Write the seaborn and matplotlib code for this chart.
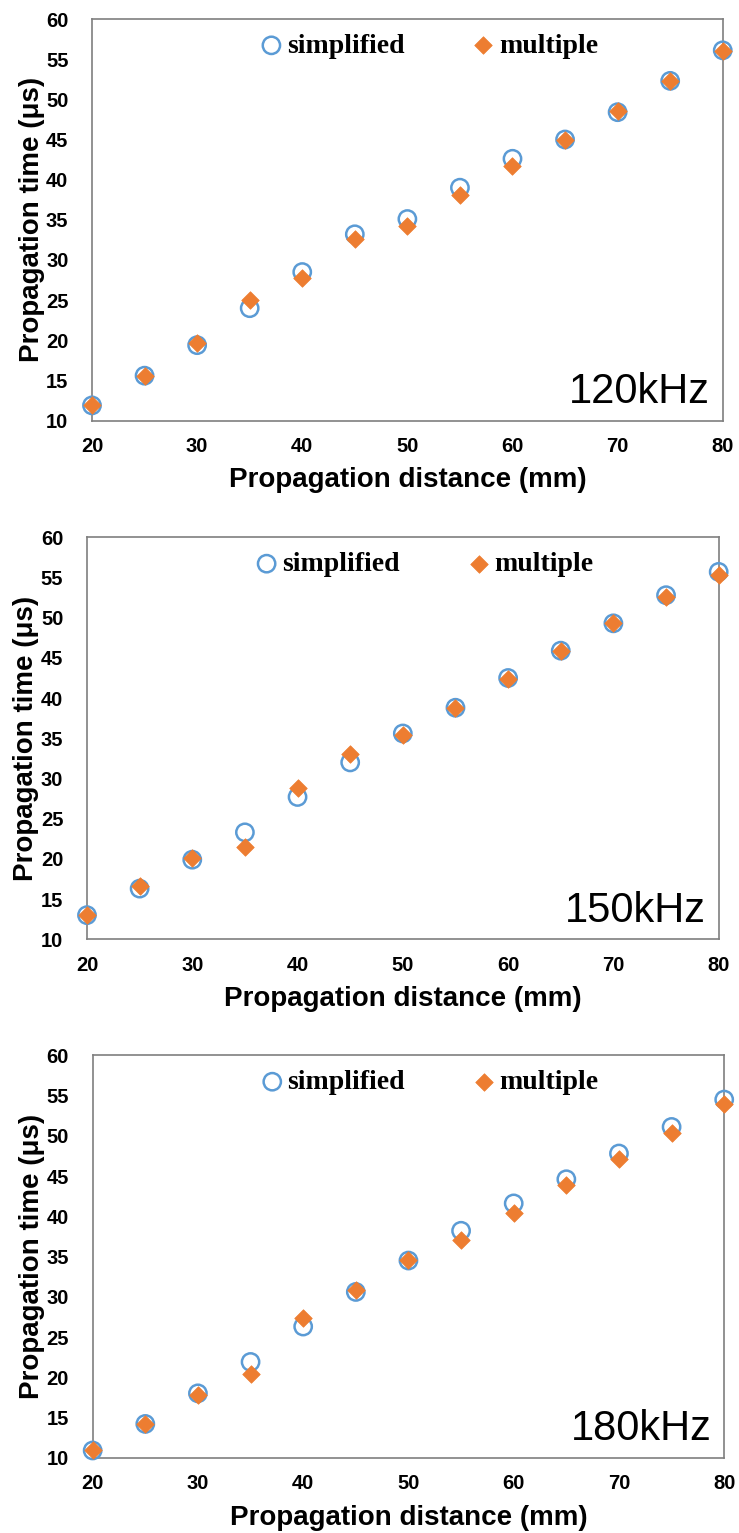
import matplotlib
matplotlib.use("Agg")
import matplotlib.pyplot as plt
import seaborn as sns
import pandas as pd

# ---------------- data ----------------
distance = [20, 25, 30, 35, 40, 45, 50, 55, 60, 65, 70, 75, 80]
sim_120 = [11.9, 15.6, 19.4, 24.0, 28.5, 33.2, 35.1, 39.0, 42.6, 45.0, 48.4, 52.3, 56.1]
mul_120 = [11.9, 15.6, 19.7, 25.0, 27.8, 32.6, 34.2, 38.1, 41.7, 44.9, 48.5, 52.3, 56.0]
sim_150 = [13.0, 16.3, 19.9, 23.3, 27.7, 32.0, 35.6, 38.8, 42.5, 45.9, 49.3, 52.8, 55.7]
mul_150 = [13.0, 16.6, 20.1, 21.5, 28.8, 33.0, 35.4, 38.8, 42.4, 45.9, 49.3, 52.6, 55.3]
sim_180 = [10.9, 14.2, 18.0, 21.9, 26.3, 30.6, 34.5, 38.2, 41.6, 44.6, 47.8, 51.1, 54.5]
mul_180 = [10.9, 14.2, 17.8, 20.4, 27.3, 30.8, 34.6, 37.0, 40.4, 43.9, 47.1, 50.4, 53.9]
frequencies = ["120kHz", "150kHz", "180kHz"]
series_names = ["simplified", "multiple"]
x_ticks = [20, 30, 40, 50, 60, 70, 80]
y_ticks = [10, 15, 20, 25, 30, 35, 40, 45, 50, 55, 60]
x_label = "Propagation distance (mm)"
y_label = "Propagation time (\u03bcs)"

panels = [(sim_120, mul_120), (sim_150, mul_150), (sim_180, mul_180)]

sns.set_style("white")
plt.rcParams["font.family"] = ["Liberation Sans", "DejaVu Sans"]
plt.rcParams["text.color"] = "black"
plt.rcParams["axes.labelcolor"] = "black"
plt.rcParams["xtick.color"] = "black"
plt.rcParams["ytick.color"] = "black"

BLUE = "#5B9BD5"
ORANGE = "#ED7D31"
SPINE = "#7F7F7F"

fig = plt.figure(figsize=(7.39, 15.33), dpi=100)
rects = [
    [0.1245, 0.7256, 0.8535, 0.2620],
    [0.1177, 0.3873, 0.8548, 0.2622],
    [0.1254, 0.0491, 0.8546, 0.2625],
]

for (sim, mul), freq, rect in zip(panels, frequencies, rects):
    ax = fig.add_axes(rect)
    df_s = pd.DataFrame({"distance": distance, "time": sim})
    df_m = pd.DataFrame({"distance": distance, "time": mul})
    sns.scatterplot(data=df_s, x="distance", y="time", ax=ax, marker="o", s=155,
                    facecolor="none", edgecolor=BLUE, linewidth=1.8,
                    label=series_names[0], clip_on=False, zorder=3)
    sns.scatterplot(data=df_m, x="distance", y="time", ax=ax, marker="D", s=80,
                    color=ORANGE, edgecolor=ORANGE, linewidth=0.5,
                    label=series_names[1], clip_on=False, zorder=4)
    ax.set_xlim(20, 80)
    ax.set_ylim(10, 60)
    ax.set_xticks(x_ticks)
    ax.set_yticks(y_ticks)
    for sp in ax.spines.values():
        sp.set_color(SPINE)
        sp.set_linewidth(1.2)
        sp.set_visible(True)
    ax.tick_params(axis="x", length=0, pad=12, labelsize=14.5, colors="black")
    ax.tick_params(axis="y", length=0, pad=17, labelsize=14.5, colors="black")
    for lab in ax.get_xticklabels() + ax.get_yticklabels():
        lab.set_fontweight("bold")
    ax.set_xlabel(x_label, fontsize=20, fontweight="bold", labelpad=8, color="black")
    ax.set_ylabel(y_label, fontsize=20, fontweight="bold", labelpad=1, color="black")
    ax.grid(False)
    ax.text(0.98, 0.044, freq, transform=ax.transAxes, ha="right", va="baseline",
            fontsize=30, color="black")
    ax.legend(loc="center left", bbox_to_anchor=(0.247, 0.933), ncol=2,
              frameon=False, borderpad=0, handlelength=0.7, handletextpad=0.2,
              columnspacing=2.5, labelcolor="black",
              prop={"family": "Liberation Serif", "weight": "bold", "size": 20})

fig.savefig("out.png", dpi=100, facecolor="white")
